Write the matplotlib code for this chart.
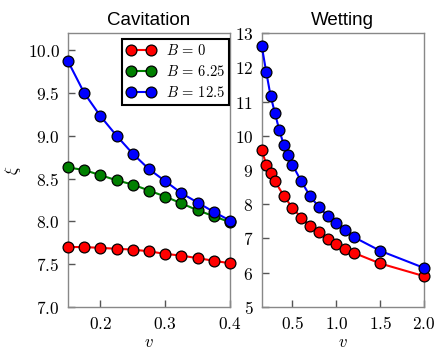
import matplotlib
matplotlib.use("Agg")
import matplotlib.pyplot as plt
from matplotlib.ticker import FuncFormatter

plt.rcParams['mathtext.fontset'] = 'cm'
plt.rcParams['font.family'] = ['DejaVu Sans']

# Cavitation panel
v_cav = [0.15, 0.175, 0.2, 0.225, 0.25, 0.275, 0.3, 0.325, 0.35, 0.375, 0.4]
cav_B0 = [7.70, 7.70, 7.69, 7.68, 7.67, 7.65, 7.62, 7.60, 7.57, 7.54, 7.51]
cav_B625 = [8.63, 8.60, 8.54, 8.48, 8.43, 8.36, 8.29, 8.21, 8.13, 8.06, 7.99]
cav_B125 = [9.87, 9.50, 9.23, 9.00, 8.79, 8.61, 8.47, 8.33, 8.22, 8.11, 8.01]

# Wetting panel
v_wet_B0 = [0.15, 0.2, 0.25, 0.3, 0.4, 0.5, 0.6, 0.7, 0.8, 0.9, 1.0, 1.1, 1.2, 1.5, 2.0]
wet_B0 = [9.59, 9.16, 8.90, 8.67, 8.25, 7.89, 7.61, 7.36, 7.18, 6.99, 6.84, 6.70, 6.58, 6.27, 5.90]
v_wet_B125 = [0.15, 0.2, 0.25, 0.3, 0.35, 0.4, 0.45, 0.5, 0.6, 0.7, 0.8, 0.9, 1.0, 1.1, 1.2, 1.5, 2.0]
wet_B125 = [12.61, 11.87, 11.17, 10.66, 10.16, 9.74, 9.43, 9.15, 8.67, 8.24, 7.92, 7.66, 7.44, 7.24, 7.04, 6.64, 6.14]

labels = [r'$B\,=\,0$', r'$B\,=\,6.25$', r'$B\,=\,12.5$']
colors = ['#ff0000', '#008000', '#0000ff']

fig = plt.figure(figsize=(4.46, 3.52), dpi=100)
ax1 = fig.add_axes([0.1525, 0.128, 0.3632, 0.778])
ax2 = fig.add_axes([0.587, 0.128, 0.3637, 0.778])

mk = dict(marker='o', markersize=7.8, markeredgecolor='black', markeredgewidth=0.9, linewidth=1.5, clip_on=False)

ax1.plot(v_cav, cav_B0, color=colors[0], markerfacecolor=colors[0], label=labels[0], zorder=3, **mk)
ax1.plot(v_cav, cav_B625, color=colors[1], markerfacecolor=colors[1], label=labels[1], zorder=4, **mk)
ax1.plot(v_cav, cav_B125, color=colors[2], markerfacecolor=colors[2], label=labels[2], zorder=5, **mk)

ax2.plot(v_wet_B0, wet_B0, color=colors[0], markerfacecolor=colors[0], zorder=3, **mk)
ax2.plot(v_wet_B125, wet_B125, color=colors[2], markerfacecolor=colors[2], zorder=4, **mk)

ax1.set_xlim(0.15, 0.4)
ax1.set_ylim(7.0, 10.2)
ax1.set_xticks([0.2, 0.3, 0.4])
ax1.set_yticks([7.0, 7.5, 8.0, 8.5, 9.0, 9.5, 10.0])
ax1.xaxis.set_major_formatter(FuncFormatter(lambda x, p: r'$%.1f$' % x))
ax1.yaxis.set_major_formatter(FuncFormatter(lambda x, p: r'$%.1f$' % x))

ax2.set_xlim(0.15, 2.0)
ax2.set_ylim(5, 13)
ax2.set_xticks([0.5, 1.0, 1.5, 2.0])
ax2.set_yticks([5, 6, 7, 8, 9, 10, 11, 12, 13])
ax2.xaxis.set_major_formatter(FuncFormatter(lambda x, p: r'$%.1f$' % x))
ax2.yaxis.set_major_formatter(FuncFormatter(lambda x, p: r'$%d$' % x))

for ax, title in [(ax1, 'Cavitation'), (ax2, 'Wetting')]:
    ax.set_title(title, fontsize=13.5, pad=6, family=['Liberation Sans', 'DejaVu Sans'])
    ax.set_xlabel(r'$v$', fontsize=12, labelpad=0)
    for s in ax.spines.values():
        s.set_color('#888888')
        s.set_linewidth(1.0)
    ax.tick_params(direction='in', length=5, width=1, color='#555555', labelsize=12.5, pad=6,
                   top=False, right=False)

ax1.set_ylabel(r'$\xi$', fontsize=12, labelpad=3)

leg = ax1.legend(loc='upper right', bbox_to_anchor=(0.994, 0.978), numpoints=2, fancybox=False,
                 framealpha=1, edgecolor='black', fontsize=10.5, borderpad=0.3, labelspacing=0.4,
                 handlelength=2.0, handletextpad=0.7, borderaxespad=0.0)
leg.get_frame().set_linewidth(1.5)

fig.savefig('out.png', dpi=100)
